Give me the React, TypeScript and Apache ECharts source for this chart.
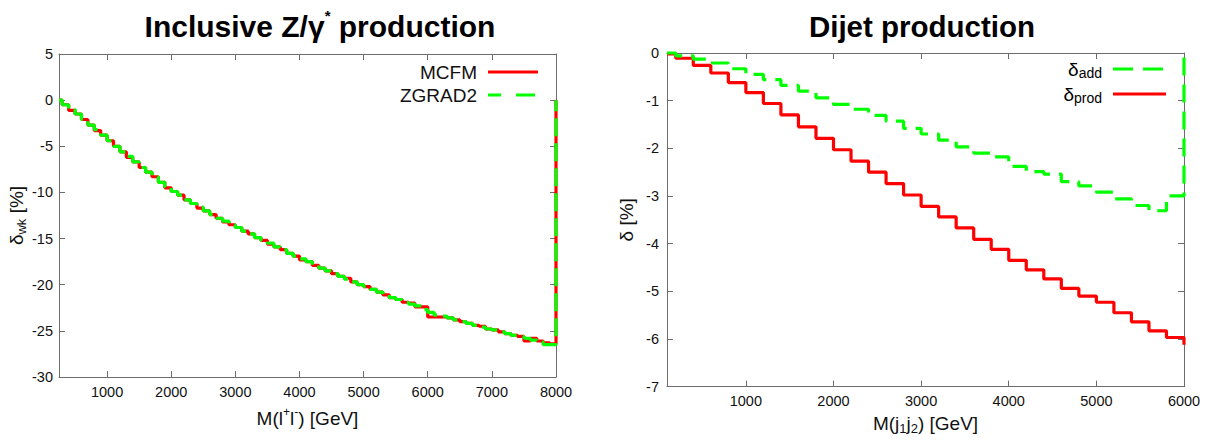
import React, { useEffect, useRef } from 'react';
import * as echarts from 'echarts';

// ---------- Left panel: Inclusive Z/γ* production ----------
const Z_MASS = [
  250, 350, 450, 550, 650, 750, 850, 950, 1050, 1150,
  1250, 1350, 1450, 1550, 1650, 1750, 1850, 1950, 2050, 2150,
  2250, 2350, 2450, 2550, 2650, 2750, 2850, 2950, 3050, 3150,
  3250, 3350, 3450, 3550, 3650, 3750, 3850, 3950, 4050, 4150,
  4250, 4350, 4450, 4550, 4650, 4750, 4850, 4950, 5050, 5150,
  5250, 5350, 5450, 5550, 5650, 5750, 5850, 5950, 6050, 6150,
  6250, 6350, 6450, 6550, 6650, 6750, 6850, 6950, 7050, 7150,
  7250, 7350, 7450, 7550, 7650, 7750, 7850, 7950,
];
const MCFM = [
  0.0, -0.5, -1.1, -1.5, -2.1, -2.7, -3.3, -3.8, -4.4, -5.0,
  -5.6, -6.2, -6.7, -7.3, -7.8, -8.3, -8.9, -9.5, -9.9, -10.3,
  -10.8, -11.2, -11.7, -12.0, -12.4, -12.8, -13.2, -13.5, -13.8, -14.2,
  -14.5, -14.9, -15.2, -15.6, -15.9, -16.2, -16.6, -16.9, -17.3, -17.5,
  -17.9, -18.2, -18.5, -18.8, -19.1, -19.3, -19.7, -20.0, -20.2, -20.5,
  -20.8, -21.1, -21.4, -21.6, -21.9, -22.0, -22.4, -22.4, -23.5, -23.5,
  -23.5, -23.6, -23.8, -24.0, -24.2, -24.4, -24.5, -24.8, -24.9, -25.1,
  -25.3, -25.5, -25.6, -26.1, -25.8, -26.1, -26.3, -26.4,
];
const ZGRAD2 = [
  0.0, -0.5, -1.0, -1.5, -2.1, -2.7, -3.2, -3.8, -4.4, -5.0,
  -5.6, -6.1, -6.7, -7.3, -7.8, -8.3, -8.9, -9.4, -9.9, -10.3,
  -10.8, -11.2, -11.6, -12.0, -12.4, -12.8, -13.1, -13.5, -13.8, -14.2,
  -14.5, -14.9, -15.2, -15.5, -15.9, -16.2, -16.6, -16.9, -17.2, -17.5,
  -17.9, -18.2, -18.5, -18.8, -19.1, -19.4, -19.7, -20.0, -20.2, -20.5,
  -20.8, -21.1, -21.4, -21.6, -21.9, -22.1, -22.3, -22.7, -23.0, -23.3,
  -23.4, -23.6, -23.8, -24.0, -24.2, -24.4, -24.6, -24.8, -24.9, -25.1,
  -25.3, -25.5, -25.6, -25.8, -26.0, -26.2, -26.5, -26.5,
];
const Z_END_VALUE = 0;
const Z_X_MIN = 250;
const Z_X_MAX = 8000;
const Z_X_TICKS = [1000, 2000, 3000, 4000, 5000, 6000, 7000, 8000];
const Z_Y_MIN = -30;
const Z_Y_MAX = 5;

// ---------- Right panel: Dijet production ----------
const DIJET_MASS = [
  100, 300, 500, 700, 900, 1100, 1300, 1500, 1700, 1900,
  2100, 2300, 2500, 2700, 2900, 3100, 3300, 3500, 3700, 3900,
  4100, 4300, 4500, 4700, 4900, 5100, 5300, 5500, 5700, 5900,
];
const DELTA_ADD = [
  0.0, -0.06, -0.13, -0.21, -0.33, -0.45, -0.56, -0.68, -0.80, -0.94,
  -1.08, -1.18, -1.31, -1.43, -1.58, -1.70, -1.83, -1.97, -2.10, -2.18,
  -2.38, -2.49, -2.54, -2.70, -2.79, -2.92, -3.06, -3.20, -3.31, -3.00,
];
const DELTA_PROD = [
  -0.02, -0.11, -0.26, -0.42, -0.62, -0.83, -1.06, -1.30, -1.55, -1.79,
  -2.03, -2.27, -2.50, -2.74, -2.98, -3.22, -3.44, -3.67, -3.91, -4.12,
  -4.35, -4.55, -4.74, -4.94, -5.10, -5.23, -5.45, -5.64, -5.83, -5.97,
];
const ADD_END_VALUE = 0;
const PROD_END_VALUE = -6.12;
const DJ_X_MIN = 100;
const DJ_X_MAX = 6000;
const DJ_X_TICKS = [1000, 2000, 3000, 4000, 5000, 6000];
const DJ_Y_MIN = -7;
const DJ_Y_MAX = 0;

const RED = '#ff0000';
const GREEN = '#00ff00';
const FRAME = '#6b6b6b';
const FONT = "'Liberation Sans', Arial, Helvetica, sans-serif";

function histSteps(centers: number[], values: number[], xMin: number, xMax: number, endValue: number) {
  const pts: number[][] = [];
  for (let i = 0; i < centers.length; i++) {
    const left = i === 0 ? xMin : (centers[i - 1] + centers[i]) / 2;
    pts.push([left, values[i]]);
  }
  pts.push([xMax, endValue]);
  return pts;
}

const plain = (v: number) => String(v);

function xAxisPair(gridIndex: number, min: number, max: number, ticks: number[], name: string, nameGap: number, rich: any) {
  const base = {
    type: 'value' as const,
    gridIndex,
    min,
    max,
    splitLine: { show: false },
    axisLine: { show: true, onZero: false, lineStyle: { color: FRAME, width: 1 } },
    axisTick: { show: true, inside: true, length: 6, customValues: ticks, lineStyle: { color: FRAME } },
  };
  return [
    {
      ...base,
      position: 'bottom',
      axisLabel: { show: true, customValues: ticks, formatter: plain, margin: 7, fontSize: 14.5, color: '#111', fontFamily: FONT, showMaxLabel: true, showMinLabel: true },
      name,
      nameLocation: 'middle',
      nameGap,
      nameTextStyle: { fontFamily: FONT, color: '#111', rich },
    },
    { ...base, position: 'top', axisLabel: { show: false } },
  ];
}

function yAxisPair(gridIndex: number, min: number, max: number, interval: number, name: string, nameGap: number, rich: any, labelMargin: number) {
  const base = {
    type: 'value' as const,
    gridIndex,
    min,
    max,
    interval,
    splitLine: { show: false },
    axisLine: { show: true, onZero: false, lineStyle: { color: FRAME, width: 1 } },
    axisTick: { show: true, inside: true, length: 6, lineStyle: { color: FRAME } },
  };
  return [
    {
      ...base,
      position: 'left',
      axisLabel: { show: true, formatter: plain, margin: labelMargin, fontSize: 14.5, color: '#111', fontFamily: FONT, showMaxLabel: true, showMinLabel: true },
      name,
      nameLocation: 'middle',
      nameGap,
      nameTextStyle: { fontFamily: FONT, color: '#111', rich },
    },
    { ...base, position: 'right', axisLabel: { show: false } },
  ];
}

const axisRich = {
  a: { fontSize: 19, fontFamily: FONT, color: '#111', lineHeight: 24 },
  sup: { fontSize: 12, fontFamily: FONT, color: '#111', verticalAlign: 'top', lineHeight: 12 },
  sub: { fontSize: 13, fontFamily: FONT, color: '#111', verticalAlign: 'bottom', lineHeight: 12 },
};

export default function App() {
  const ref = useRef<HTMLDivElement>(null);
  useEffect(() => {
    if (!ref.current) return;
    const chart = echarts.init(ref.current, undefined, { renderer: 'svg' });
    const [zxB, zxT] = xAxisPair(0, Z_X_MIN, Z_X_MAX, Z_X_TICKS, '{a|M(l}{sup|+}{a|l}{sup|-}{a|) [GeV]}', 29, axisRich);
    const [dxB, dxT] = xAxisPair(1, DJ_X_MIN, DJ_X_MAX, DJ_X_TICKS, '{a|M(j}{sub|1}{a|j}{sub|2}{a|) [GeV]}', 19, axisRich);
    const [zyL, zyR] = yAxisPair(0, Z_Y_MIN, Z_Y_MAX, 5, '{a|δ}{sub|wk}{a| [%]}', 27, axisRich, 6);
    const [dyL, dyR] = yAxisPair(1, DJ_Y_MIN, DJ_Y_MAX, 1, '{a|δ [%]}', 29, axisRich, 8);

    const legendRich = {
      a: { fontSize: 19, fontFamily: FONT, color: '#111', lineHeight: 22 },
      sub: { fontSize: 14, fontFamily: FONT, color: '#111', verticalAlign: 'bottom', lineHeight: 13 },
    };

    chart.setOption({
      animation: false,
      backgroundColor: '#ffffff',
      title: [
        {
          text: '{t|Inclusive Z/γ}{sup|*}{t| production}',
          left: 315,
          top: 3,
          textAlign: 'center',
          textStyle: {
            rich: {
              t: { fontSize: 30, fontWeight: 'bold', fontFamily: FONT, color: '#000', lineHeight: 36 },
              sup: { fontSize: 15, fontWeight: 'bold', fontFamily: FONT, color: '#000', verticalAlign: 'top', lineHeight: 15 },
            },
          },
        },
        {
          text: 'Dijet production',
          left: 917,
          top: 3,
          textAlign: 'center',
          textStyle: { fontSize: 29.5, fontWeight: 'bold', fontFamily: FONT, color: '#000', lineHeight: 36 },
        },
      ],
      grid: [
        { left: 59, top: 54, width: 497, height: 323 },
        { left: 667, top: 53, width: 517, height: 334 },
      ],
      xAxis: [zxB, zxT, dxB, dxT],
      yAxis: [zyL, zyR, dyL, dyR],
      series: [
        {
          name: 'MCFM',
          type: 'line',
          xAxisIndex: 0,
          yAxisIndex: 0,
          step: 'end',
          symbol: 'none',
          clip: false,
          data: histSteps(Z_MASS, MCFM, Z_X_MIN, Z_X_MAX, Z_END_VALUE),
          lineStyle: { color: RED, width: 3.2 },
          z: 3,
        },
        {
          name: 'ZGRAD2',
          type: 'line',
          xAxisIndex: 0,
          yAxisIndex: 0,
          step: 'end',
          symbol: 'none',
          clip: false,
          data: histSteps(Z_MASS, ZGRAD2, Z_X_MIN, Z_X_MAX, Z_END_VALUE),
          lineStyle: { color: GREEN, width: 3.2, type: [18, 7], cap: 'butt' },
          z: 4,
        },
        {
          name: 'δadd',
          type: 'line',
          xAxisIndex: 2,
          yAxisIndex: 2,
          step: 'end',
          symbol: 'none',
          clip: false,
          data: histSteps(DIJET_MASS, DELTA_ADD, DJ_X_MIN, DJ_X_MAX, ADD_END_VALUE),
          lineStyle: { color: GREEN, width: 3.2, type: [18, 9], cap: 'butt' },
          z: 4,
        },
        {
          name: 'δprod',
          type: 'line',
          xAxisIndex: 2,
          yAxisIndex: 2,
          step: 'end',
          symbol: 'none',
          clip: false,
          data: histSteps(DIJET_MASS, DELTA_PROD, DJ_X_MIN, DJ_X_MAX, PROD_END_VALUE),
          lineStyle: { color: RED, width: 3.2 },
          z: 3,
        },
      ],
      graphic: [
        { type: 'text', x: 477, y: 72, style: { text: 'MCFM', align: 'right', verticalAlign: 'middle', fontSize: 19, fontFamily: FONT, fill: '#111' } },
        { type: 'line', shape: { x1: 488, y1: 72, x2: 538, y2: 72 }, style: { stroke: RED, lineWidth: 3 } },
        { type: 'text', x: 477, y: 95, style: { text: 'ZGRAD2', align: 'right', verticalAlign: 'middle', fontSize: 19, fontFamily: FONT, fill: '#111' } },
        { type: 'line', shape: { x1: 488, y1: 95, x2: 535, y2: 95 }, style: { stroke: GREEN, lineWidth: 3, lineDash: [13, 15, 20, 10] } },
        { type: 'text', x: 1102, y: 69, style: { text: '{a|δ}{sub|add}', rich: legendRich, align: 'right', verticalAlign: 'middle' } },
        { type: 'line', shape: { x1: 1113, y1: 69, x2: 1163, y2: 69 }, style: { stroke: GREEN, lineWidth: 3, lineDash: [20, 10] } },
        { type: 'text', x: 1102, y: 94, style: { text: '{a|δ}{sub|prod}', rich: legendRich, align: 'right', verticalAlign: 'middle' } },
        { type: 'line', shape: { x1: 1113, y1: 94, x2: 1166, y2: 94 }, style: { stroke: RED, lineWidth: 3 } },
      ],
    });
    return () => chart.dispose();
  }, []);
  return <div ref={ref} style={{ position: 'absolute', left: 0, top: 0, width: 1220, height: 440 }} />;
}
